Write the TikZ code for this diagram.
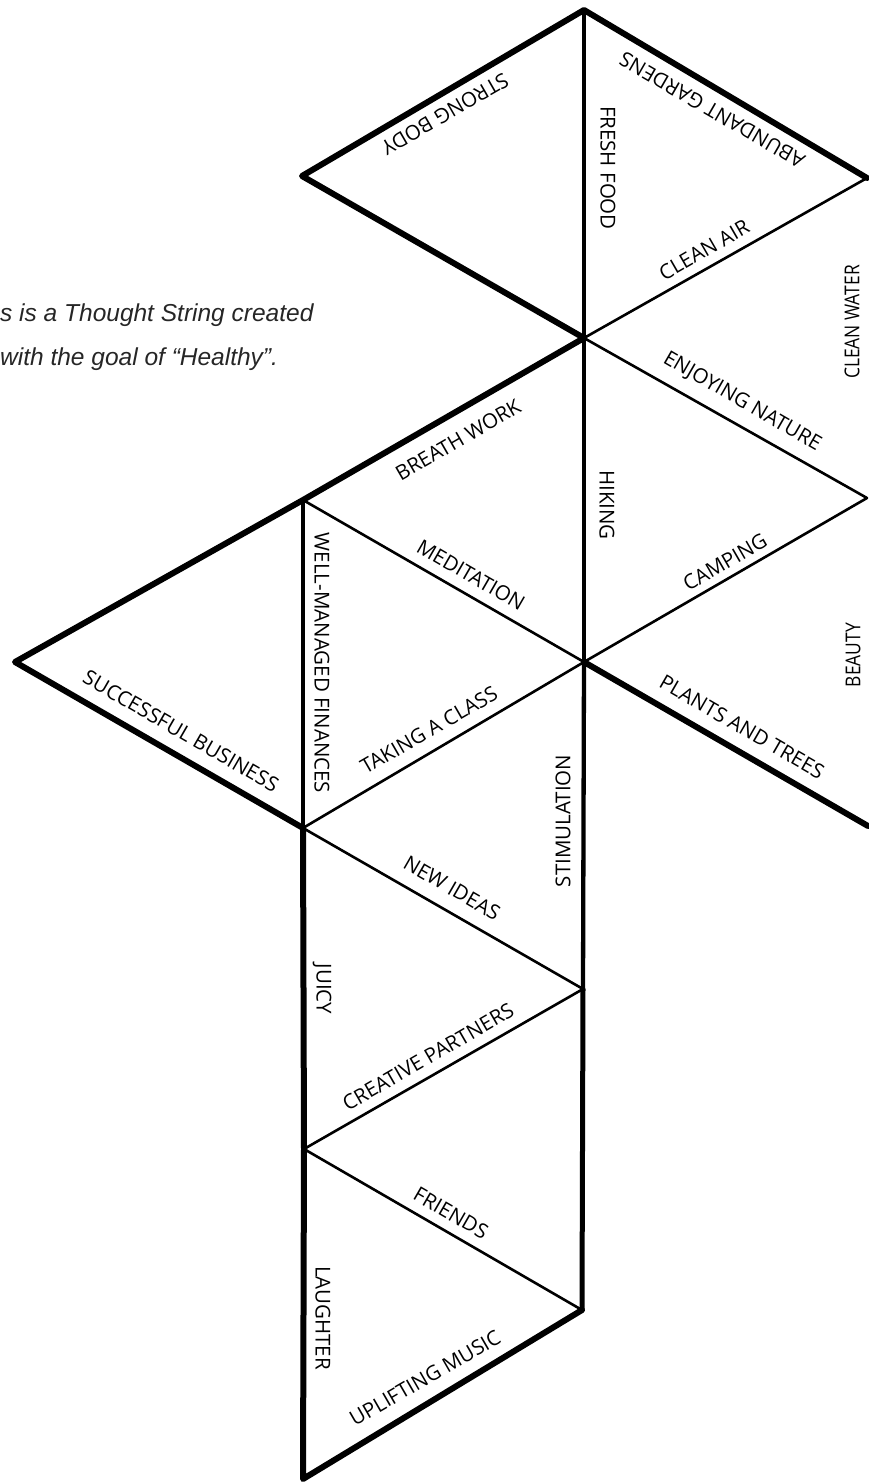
\documentclass[tikz,border=0pt]{standalone}
\usepackage{fontspec}
\newfontfamily\labfont{Open Sans}
\newfontfamily\labcondfont{Open Sans}[FakeStretch=0.85]
\newfontfamily\titlefont{Liberation Sans}
\begin{document}
\begin{tikzpicture}[x=1pt,y=-1pt,
  thickedge/.style={line width=6pt, line cap=round, line join=round},
  midedge/.style={line width=4.3pt, line cap=round},
  thinedge/.style={line width=2.6pt, line cap=round},
  lab/.style={font=\labfont\fontsize{20.5}{24}\selectfont, inner sep=0pt},
  labcond/.style={font=\labcondfont\fontsize{20.5}{24}\selectfont, inner sep=0pt},
  ttl/.style={font=\titlefont\itshape\fontsize{24.5}{28}\selectfont, inner sep=0pt, anchor=base west, text=black!85}]
\useasboundingbox (0,0) rectangle (868,1484);
% vertices
\coordinate (T) at (584,10);
\coordinate (SBL) at (302,176);
\coordinate (C1) at (584,338);
\coordinate (R1) at (867,178);
\coordinate (R2) at (867,498);
\coordinate (C2) at (584,662);
\coordinate (R3) at (868,826);
\coordinate (L1) at (15,662);
\coordinate (L2) at (303,500);
\coordinate (L3) at (303,828);
\coordinate (C3) at (583,989);
\coordinate (L4) at (304,1149);
\coordinate (C4) at (582,1310);
\coordinate (L5) at (303,1479);
% thin edges
\draw[thinedge] (R1) -- (C1);
\draw[thinedge] (C1) -- (R2);
\draw[thinedge] (R2) -- (C2);
\draw[thinedge] (L2) -- (C2);
\draw[thinedge] (C2) -- (L3);
\draw[thinedge] (L3) -- (C3);
\draw[thinedge] (C3) -- (L4);
\draw[thinedge] (L4) -- (C4);
% medium edges
\draw[midedge] (T) -- (C1);
\draw[midedge] (C1) -- (C2);
\draw[midedge] (L2) -- (L3);
\draw[midedge] (C2) -- (C3);
\draw[line width=5pt, line cap=round] (C3) -- (C4);
% thick edges
\draw[thickedge] (C1) -- (SBL) -- (T) -- (R1);
\draw[thickedge] (C1) -- (L2) -- (L1) -- (L3);
\draw[thickedge] (C2) -- (R3);
\draw[thickedge] (L3) -- (L4) -- (L5) -- (C4);
% labels
\node[lab, rotate=210] (strongbody) at (445,114) {STRONG BODY};
\node[lab, rotate=-90] (freshfood) at (608,168) {FRESH FOOD};
\node[lab, rotate=150] (gardens) at (712,110) {ABUNDANT GARDENS};
\node[lab, rotate=30] (cleanair) at (704,250) {CLEAN AIR};
\node[labcond, rotate=90] (cleanwater) at (852,322) {CLEAN WATER};
\node[lab, rotate=-30] (nature) at (742,402) {ENJOYING NATURE};
\node[lab, rotate=-90] (hiking) at (607,505) {HIKING};
\node[lab, rotate=30] (camping) at (725,562) {CAMPING};
\node[labcond, rotate=90] (beauty) at (853,655) {BEAUTY};
\node[lab, rotate=-30] (plants) at (742,727) {PLANTS AND TREES};
\node[lab, rotate=30] (breath) at (458,440) {BREATH WORK};
\node[lab, rotate=-30] (meditation) at (471,575) {MEDITATION};
\node[lab, rotate=-90] (finances) at (322,663) {WELL-MANAGED FINANCES};
\node[lab, rotate=-30] (business) at (181,731) {SUCCESSFUL BUSINESS};
\node[lab, rotate=30] (takingclass) at (429,730) {TAKING A CLASS};
\node[lab, rotate=90] (stimulation) at (563,821) {STIMULATION};
\node[lab, rotate=-30] (newideas) at (452,888) {NEW IDEAS};
\node[lab, rotate=-90] (juicy) at (322,989) {JUICY};
\node[lab, rotate=30] (partners) at (428,1057) {CREATIVE PARTNERS};
\node[lab, rotate=-30] (friends) at (451,1213) {FRIENDS};
\node[lab, rotate=-90] (laughter) at (323,1318) {LAUGHTER};
\node[lab, rotate=30] (music) at (425,1378) {UPLIFTING MUSIC};
% title
\node[ttl] (title1) at (0,321) {s is a Thought String created};
\node[ttl] (title2) at (0,365) {with the goal of “Healthy”.};
\end{tikzpicture}
\end{document}
